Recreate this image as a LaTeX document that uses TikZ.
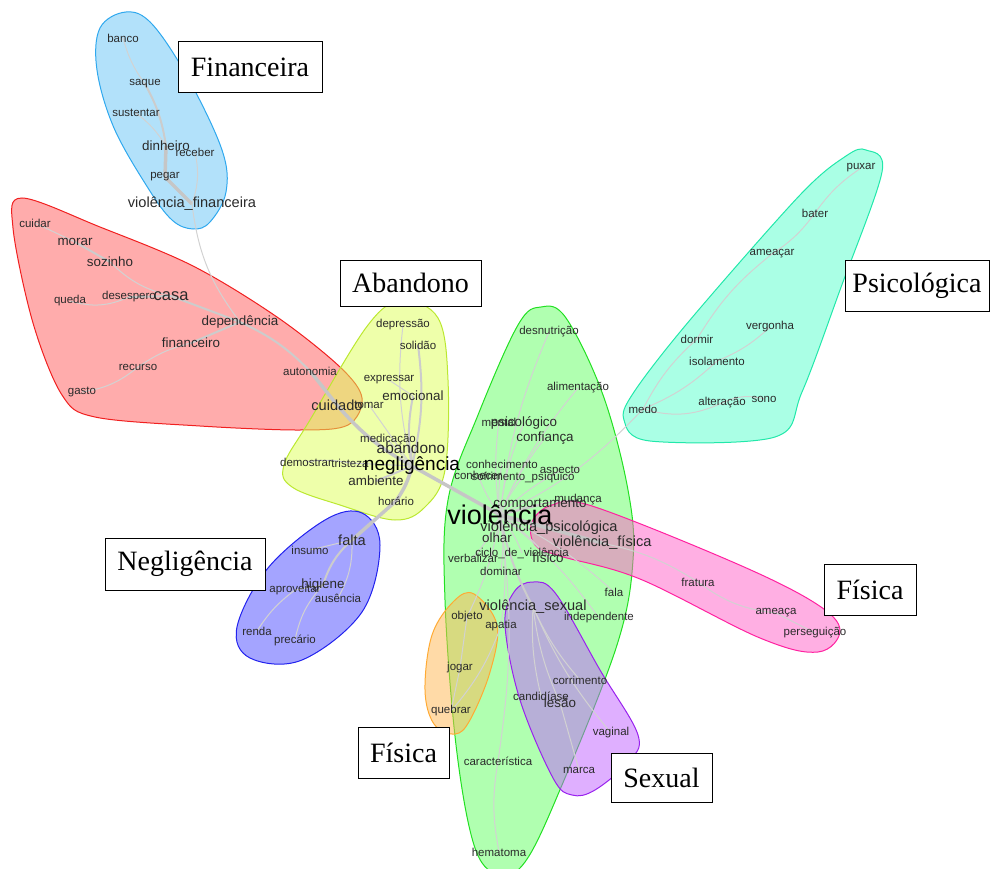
\documentclass[tikz,border=0pt]{standalone}
\usepackage{fontspec}
\setmainfont{Liberation Sans}
\newfontfamily\boxfont{Liberation Serif}
\pgfdeclarelayer{hulls}
\pgfdeclarelayer{links}
\pgfsetlayers{hulls,links,main}

% community fills and borders
\definecolor{finF}{HTML}{66C4F5}\definecolor{finD}{HTML}{2FA8EE}
\definecolor{casF}{HTML}{FF5A5A}\definecolor{casD}{HTML}{F02020}
\definecolor{abaF}{HTML}{DDFF55}\definecolor{abaD}{HTML}{BBE830}
\definecolor{negF}{HTML}{4A4AFF}\definecolor{negD}{HTML}{2222EE}
\definecolor{vioF}{HTML}{62FF62}\definecolor{vioD}{HTML}{22E022}
\definecolor{psiF}{HTML}{55FFCC}\definecolor{psiD}{HTML}{22E8AA}
\definecolor{fisF}{HTML}{FF5FC8}\definecolor{fisD}{HTML}{FF22A0}
\definecolor{sexF}{HTML}{C060FF}\definecolor{sexD}{HTML}{9922EE}
\definecolor{objF}{HTML}{FFB650}\definecolor{objD}{HTML}{FFAA33}
\definecolor{wordc}{HTML}{2A2A2A}

\begin{document}
\begin{tikzpicture}[x=1pt,y=-1pt,
  w/.style={inner sep=0pt,text=wordc,font=\fontsize{11.5}{12}\selectfont},
  wm/.style={inner sep=0pt,text=wordc,font=\fontsize{13.4}{14}\selectfont},
  wl/.style={inner sep=0pt,text=wordc,font=\fontsize{14.6}{15}\selectfont},
  link/.style={draw=gray!35,line width=1pt},
  linkm/.style={draw=gray!40,line width=2pt},
  linkt/.style={draw=gray!45,line width=3.5pt},
  hull/.style n args={2}{fill=#1,fill opacity=0.5,draw=#2,line width=1pt},
  lbl/.style={draw=black,line width=1pt,fill=white,inner sep=0pt,
    font=\boxfont\fontsize{28}{28}\selectfont}]
\useasboundingbox (0,0) rectangle (990,869);

% ---------- community hulls ----------
\begin{pgfonlayer}{hulls}
\path[hull={vioF}{vioD}] plot[smooth cycle,tension=0.6] coordinates
  {(541,307) (566,318) (603,395) (628,490) (633,560) (617,645) (562,785) (525,862) (497,874) (474,845) (456,745) (445,600) (448,500) (478,415) (518,325)};
\path[hull={finF}{finD}] plot[smooth cycle,tension=0.6] coordinates
  {(100,28) (126,12) (152,24) (188,78) (222,150) (226,192) (210,222) (193,229) (172,220) (148,188) (114,128) (97,70)};
\path[hull={casF}{casD}] plot[smooth cycle,tension=0.55] coordinates
  {(22,198) (100,227) (193,266) (277,317) (340,367) (362,398) (348,425) (300,430) (200,426) (95,417) (62,395) (33,323) (13,228)};
\path[hull={abaF}{abaD}] plot[smooth cycle,tension=0.6] coordinates
  {(402,301) (438,318) (448,380) (445,470) (425,507) (395,520) (340,505) (292,487) (284,465) (310,420) (368,325)};
\path[hull={negF}{negD}] plot[smooth cycle,tension=0.6] coordinates
  {(362,513) (380,545) (362,612) (302,660) (250,658) (237,627) (268,568) (325,520)};
\path[hull={psiF}{psiD}] plot[smooth cycle,tension=0.55] coordinates
  {(866,150) (882,172) (840,290) (802,392) (775,437) (650,441) (624,420) (634,392) (690,320) (800,195) (846,156)};
\path[hull={fisF}{fisD}] plot[smooth cycle,tension=0.6] coordinates
  {(532,522) (552,505) (592,506) (735,563) (815,603) (840,630) (818,652) (760,638) (640,579) (560,556) (535,545)};
\path[hull={sexF}{sexD}] plot[smooth cycle,tension=0.6] coordinates
  {(533,582) (556,594) (600,670) (638,735) (628,762) (595,790) (572,795) (553,778) (520,700) (505,625) (514,592)};
\path[hull={objF}{objD}] plot[smooth cycle,tension=0.6] coordinates
  {(474,594) (497,625) (490,672) (470,720) (455,734) (434,724) (425,690) (432,635) (454,601)};
\end{pgfonlayer}

% ---------- words ----------
% financial
\node[w]  (banco)     at (123,38)  {banco};
\node[w]  (saque)     at (145,84)  {saque};
\node[w]  (sustentar) at (136,113) {sustentar};
\node[w]  (receber)   at (195,152) {receber};
\node[wm] (dinheiro)  at (166,146) {dinheiro};
\node[w]  (pegar)     at (165,177) {pegar};
\node[wl] (vfin)      at (192,204) {violência\_financeira};
% home and dependence
\node[w]  (cuidar)    at (35,223)  {cuidar};
\node[wm] (morar)     at (75,242)  {morar};
\node[wm] (sozinho)   at (110,262) {sozinho};
\node[w]  (queda)     at (70,301)  {queda};
\node[w]  (desespero) at (129,297) {desespero};
\node[inner sep=0pt,text=wordc,font=\fontsize{16.5}{17}\selectfont] (casa) at (171,296) {casa};
\node[wm] (dependencia) at (240,322) {dependência};
\node[wm] (financeiro)  at (191,343) {financeiro};
\node[w]  (recurso)   at (138,367) {recurso};
\node[w]  (gasto)     at (82,392)  {gasto};
\node[w]  (autonomia) at (310,371) {autonomia};
% abandonment
\node[w]  (depressao) at (403,325) {depressão};
\node[w]  (solidao)   at (418,345) {solidão};
\node[w]  (expressar) at (389,380) {expressar};
\node[wm] (emocional) at (413,396) {emocional};
\node[w]  (tomar)     at (369,405) {tomar};
\node[wl] (cuidado)   at (337,405) {cuidado};
\node[w]  (medicacao) at (388,440) {medicação};
\node[inner sep=0pt,text=wordc,font=\fontsize{15.4}{16}\selectfont] (abandono) at (411,448) {abandono};
\node[w]  (demostrar) at (306,462) {demostrar};
\node[w]  (tristeza)  at (350,463) {tristeza};
\node[inner sep=0pt,text=black,font=\fontsize{19}{20}\selectfont] (negligencia) at (412,466) {negligência};
\node[wm] (ambiente)  at (376,481) {ambiente};
\node[w]  (horario)   at (396,501) {horário};
% neglect
\node[wl] (falta)     at (352,540) {falta};
\node[w]  (insumo)    at (310,550) {insumo};
\node[w]  (aproveitar) at (295,590) {aproveitar};
\node[wm] (higiene)   at (323,585) {higiene};
\node[w]  (ausencia)  at (338,598) {ausência};
\node[w]  (renda)     at (257,631) {renda};
\node[w]  (precario)  at (295,640) {precário};
% violence core
\node[w]  (desnutricao) at (549,332) {desnutrição};
\node[w]  (alimentacao) at (578,388) {alimentação};
\node[w]  (mental)    at (499,422) {mental};
\node[wm] (psicologico) at (524,423) {psicológico};
\node[wm] (confianca) at (545,438) {confiança};
\node[w]  (conhecimento) at (502,464) {conhecimento};
\node[w]  (aspecto)   at (560,471) {aspecto};
\node[w]  (conhecer)  at (478,475) {conhecer};
\node[w]  (sofrimento) at (523,477) {sofrimento\_psíquico};
\node[w]  (mudanca)   at (578,500) {mudança};
\node[wm] (comportamento) at (540,505) {comportamento};
\node[inner sep=0pt,text=black,font=\fontsize{27}{28}\selectfont] (violencia) at (500,515) {violência};
\node[wl] (vpsi)      at (549,528) {violência\_psicológica};
\node[wm] (olhar)     at (497,538) {olhar};
\node[wl] (vfis)      at (602,543) {violência\_física};
\node[w]  (ciclo)     at (522,553) {ciclo\_de\_violência};
\node[wm] (fisico)    at (548,558) {físico};
\node[w]  (verbalizar) at (473,558) {verbalizar};
\node[w]  (dominar)   at (501,571) {dominar};
\node[w]  (fala)      at (614,592) {fala};
\node[wl] (vsex)      at (533,607) {violência\_sexual};
\node[w]  (independente) at (599,618) {independente};
\node[w]  (objeto)    at (467,617) {objeto};
\node[w]  (apatia)    at (501,626) {apatia};
\node[w]  (jogar)     at (460,668) {jogar};
\node[w]  (quebrar)   at (451,711) {quebrar};
\node[w]  (corrimento) at (580,680) {corrimento};
\node[w]  (candidiase) at (541,696) {candidíase};
\node[wm] (lesao)     at (560,703) {lesão};
\node[w]  (vaginal)   at (611,733) {vaginal};
\node[w]  (caracteristica) at (498,761) {característica};
\node[w]  (marca)     at (579,770) {marca};
\node[w]  (hematoma)  at (499,852) {hematoma};
% psychological
\node[w]  (puxar)     at (861,168) {puxar};
\node[w]  (bater)     at (815,213) {bater};
\node[w]  (ameacar)   at (772,254) {ameaçar};
\node[w]  (vergonha)  at (770,327) {vergonha};
\node[w]  (dormir)    at (697,339) {dormir};
\node[w]  (isolamento) at (717,361) {isolamento};
\node[w]  (sono)      at (764,399) {sono};
\node[w]  (alteracao) at (722,403) {alteração};
\node[w]  (medo)      at (643,409) {medo};
% physical
\node[w]  (fratura)   at (698,582) {fratura};
\node[w]  (ameaca)    at (776,613) {ameaça};
\node[w]  (perseguicao) at (815,633) {perseguição};

% ---------- co-occurrence links ----------
\begin{pgfonlayer}{links}
\draw[link]  (banco.center) to[bend right=10] (saque.center);
\draw[linkm] (saque.center) to[bend left=10] (dinheiro.center);
\draw[link]  (sustentar.center) to[bend left=10] (dinheiro.center);
\draw[linkt] (dinheiro.center) -- (pegar.center);
\draw[linkt] (pegar.center) -- (vfin.center);
\draw[link]  (receber.center) to[bend left=15] (vfin.center);
\draw[link]  (vfin.center) to[bend right=15] (dependencia.center);
\draw[link]  (cuidar.center) -- (morar.center);
\draw[linkm] (morar.center) -- (sozinho.center);
\draw[link]  (sozinho.center) to[bend right=15] (casa.center);
\draw[link]  (queda.center) to[bend right=20] (desespero.center);
\draw[linkm] (desespero.center) -- (casa.center);
\draw[linkm] (casa.center) -- (dependencia.center);
\draw[linkm] (dependencia.center) -- (financeiro.center);
\draw[link]  (financeiro.center) to[bend right=10] (recurso.center);
\draw[link]  (recurso.center) to[bend left=15] (gasto.center);
\draw[linkm] (dependencia.center) to[bend left=10] (autonomia.center);
\draw[linkt] (autonomia.center) -- (cuidado.center);
\draw[linkt] (cuidado.center) to[bend right=10] (negligencia.center);
\draw[link]  (depressao.center) to[bend right=10] (negligencia.center);
\draw[linkm] (solidao.center) to[bend left=10] (negligencia.center);
\draw[link]  (expressar.center) -- (emocional.center);
\draw[linkm] (emocional.center) to[bend right=10] (negligencia.center);
\draw[link]  (tomar.center) -- (negligencia.center);
\draw[link]  (medicacao.center) -- (negligencia.center);
\draw[linkm] (abandono.center) -- (negligencia.center);
\draw[link]  (demostrar.center) to[bend left=10] (tristeza.center);
\draw[link]  (tristeza.center) -- (negligencia.center);
\draw[linkm] (ambiente.center) -- (negligencia.center);
\draw[linkt] (negligencia.center) to[bend left=10] (horario.center);
\draw[linkt] (horario.center) -- (falta.center);
\draw[linkt] (negligencia.center) -- (violencia.center);
\draw[link]  (falta.center) -- (insumo.center);
\draw[linkm] (falta.center) to[bend right=15] (higiene.center);
\draw[link]  (falta.center) to[bend left=15] (ausencia.center);
\draw[link]  (higiene.center) -- (aproveitar.center);
\draw[link]  (aproveitar.center) to[bend right=10] (renda.center);
\draw[link]  (higiene.center) to[bend right=15] (precario.center);
\foreach \t in {conhecer,conhecimento,sofrimento,mental,psicologico,confianca,aspecto,
                desnutricao,alimentacao,mudanca,olhar,ciclo,verbalizar,dominar,fisico,
                fala,independente,objeto,apatia,caracteristica}
  \draw[link] (violencia.center) to[bend left=8] (\t.center);
\draw[linkm] (violencia.center) -- (comportamento.center);
\draw[linkt] (violencia.center) -- (vpsi.center);
\draw[linkt] (violencia.center) -- (vfis.center);
\draw[linkm] (violencia.center) to[bend right=8] (vsex.center);
\draw[link]  (violencia.center) to[bend right=10] (medo.center);
\draw[link]  (caracteristica.center) to[bend right=10] (hematoma.center);
\draw[link]  (objeto.center) -- (jogar.center);
\draw[link]  (jogar.center) -- (quebrar.center);
\draw[link]  (apatia.center) to[bend left=10] (quebrar.center);
\foreach \t in {corrimento,candidiase,lesao,vaginal}
  \draw[link] (vsex.center) to[bend right=8] (\t.center);
\draw[link]  (lesao.center) -- (marca.center);
\draw[link]  (vfis.center) to[bend left=10] (fratura.center);
\draw[link]  (fratura.center) to[bend right=15] (ameaca.center);
\draw[link]  (ameaca.center) -- (perseguicao.center);
\draw[link]  (medo.center) to[bend left=10] (dormir.center);
\draw[link]  (dormir.center) to[bend left=10] (ameacar.center);
\draw[link]  (ameacar.center) to[bend right=10] (bater.center);
\draw[link]  (bater.center) to[bend left=10] (puxar.center);
\draw[link]  (medo.center) to[bend right=10] (isolamento.center);
\draw[link]  (isolamento.center) to[bend right=10] (vergonha.center);
\draw[link]  (medo.center) to[bend right=20] (alteracao.center);
\draw[link]  (alteracao.center) to[bend left=20] (sono.center);
\end{pgfonlayer}

% ---------- category labels ----------
\node[lbl,minimum width=144pt,minimum height=51pt] (tFin) at (250,67.5)  {Financeira};
\node[lbl,minimum width=141pt,minimum height=46pt] (tAba) at (410.5,283) {Abandono};
\node[lbl,minimum width=144pt,minimum height=51pt] (tPsi) at (917,285.5) {Psicológica};
\node[lbl,minimum width=160pt,minimum height=52pt] (tNeg) at (185,564)   {Negligência};
\node[lbl,minimum width=92pt,minimum height=51pt]  (tFis) at (870,589.5) {Física};
\node[lbl,minimum width=91pt,minimum height=51pt]  (tFis2) at (403.5,752.5) {Física};
\node[lbl,minimum width=101pt,minimum height=49pt] (tSex) at (661.5,777.5) {Sexual};
\end{tikzpicture}
\end{document}
